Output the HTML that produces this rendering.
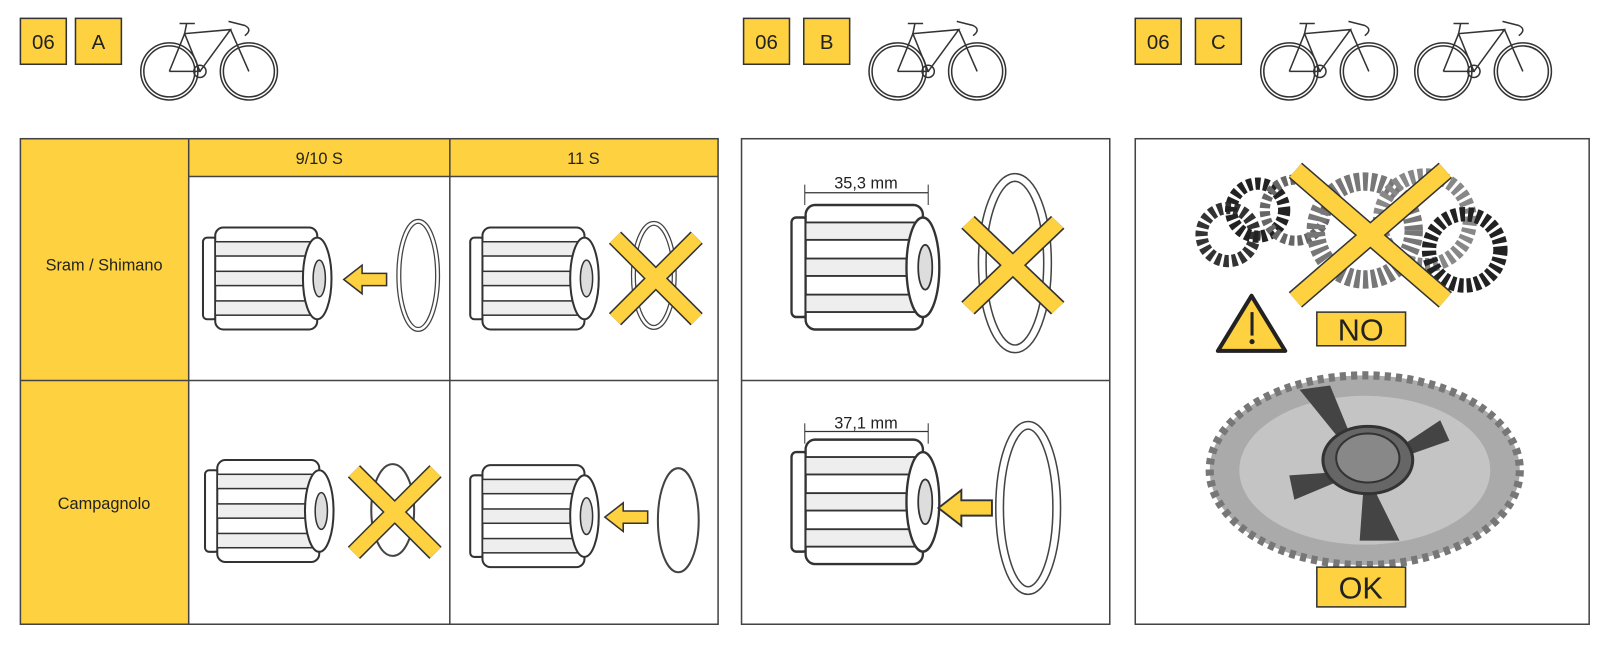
<!DOCTYPE html>
<html><head><meta charset="utf-8"><style>
html,body{margin:0;padding:0;background:#fff;}
svg{display:block;font-family:"Liberation Sans",sans-serif;}
</style></head><body>
<svg width="1600" height="662" viewBox="0 0 1600 662" xmlns="http://www.w3.org/2000/svg">
<defs>
<g id="hub">
  <rect x="0" y="10" width="14" height="80" rx="4" fill="#fff" stroke="#333" stroke-width="2"/>
  <rect x="12" y="0" width="100" height="100" rx="8" fill="#fff" stroke="#333" stroke-width="2"/>
  <rect x="12" y="14" width="100" height="14" fill="#eee" stroke="#333" stroke-width="1.5"/>
  <rect x="12" y="43" width="100" height="14" fill="#eee" stroke="#333" stroke-width="1.5"/>
  <rect x="12" y="72" width="100" height="14" fill="#eee" stroke="#333" stroke-width="1.5"/>
  <ellipse cx="112" cy="50" rx="14" ry="40" fill="#fff" stroke="#333" stroke-width="2"/>
  <ellipse cx="114" cy="50" rx="6" ry="18" fill="#ddd" stroke="#333" stroke-width="1.5"/>
</g>
<g id="bike" fill="none" stroke="#333" stroke-width="1.5">
  <circle cx="30" cy="55" r="28"/><circle cx="30" cy="55" r="25"/>
  <circle cx="108" cy="55" r="28"/><circle cx="108" cy="55" r="25"/>
  <path d="M30 55 L60 55 L45 18 L90 14 L60 55 M45 18 L30 55 M90 14 L108 55 M40 8 L55 8 M45 18 L47 8 M88 6 L104 10 Q112 14 104 20"/>
  <circle cx="60" cy="55" r="6"/>
</g>
<g id="x"><path d="M0 0 L80 80 M80 0 L0 80" stroke="#333" stroke-width="17" stroke-linecap="butt"/><path d="M0 0 L80 80 M80 0 L0 80" stroke="#fdd13f" stroke-width="14"/></g>
<g id="arr"><path d="M0 0 L18 -14 L18 -6 L42 -6 L42 6 L18 6 L18 14 Z" fill="#fdd13f" stroke="#333" stroke-width="1.5"/></g>
</defs>
<g transform="scale(1.02)">
<!-- headers -->
<g font-size="20" fill="#222" stroke-width="1.5">
<rect x="20" y="18" width="45" height="45" fill="#fdd13f" stroke="#333"/><text x="42.5" y="48" text-anchor="middle">06</text>
<rect x="74" y="18" width="45" height="45" fill="#fdd13f" stroke="#333"/><text x="96.5" y="48" text-anchor="middle">A</text>
<rect x="729" y="18" width="45" height="45" fill="#fdd13f" stroke="#333"/><text x="751.5" y="48" text-anchor="middle">06</text>
<rect x="788" y="18" width="45" height="45" fill="#fdd13f" stroke="#333"/><text x="810.5" y="48" text-anchor="middle">B</text>
<rect x="1113" y="18" width="45" height="45" fill="#fdd13f" stroke="#333"/><text x="1135.5" y="48" text-anchor="middle">06</text>
<rect x="1172" y="18" width="45" height="45" fill="#fdd13f" stroke="#333"/><text x="1194.5" y="48" text-anchor="middle">C</text>
</g>
<use href="#bike" x="136" y="15"/>
<use href="#bike" x="850" y="15"/>
<use href="#bike" x="1234" y="15"/>
<use href="#bike" x="1385" y="15"/>

<!-- panel A -->
<rect x="20" y="136" width="165" height="476" fill="#fdd13f"/>
<rect x="185" y="136" width="519" height="37" fill="#fdd13f"/>
<g stroke="#444" stroke-width="1.5" fill="none">
<rect x="20" y="136" width="684" height="476"/>
<line x1="185" y1="136" x2="185" y2="612"/>
<line x1="441" y1="136" x2="441" y2="612"/>
<line x1="185" y1="173" x2="704" y2="173"/>
<line x1="20" y1="373" x2="704" y2="373"/>
</g>
<g font-size="16" fill="#222" text-anchor="middle">
<text x="313" y="161">9/10 S</text><text x="572" y="161">11 S</text>
<text x="102" y="265">Sram / Shimano</text><text x="102" y="499">Campagnolo</text>
</g>
<use href="#hub" x="199" y="223"/>
<use href="#arr" x="337" y="274"/>
<ellipse cx="410" cy="270" rx="19" ry="53" fill="none" stroke="#444" stroke-width="5"/>
<ellipse cx="410" cy="270" rx="19" ry="53" fill="none" stroke="#fff" stroke-width="2.5"/>
<use href="#hub" x="461" y="223"/>
<ellipse cx="641" cy="270" rx="20" ry="51" fill="none" stroke="#444" stroke-width="5"/>
<ellipse cx="641" cy="270" rx="20" ry="51" fill="none" stroke="#fff" stroke-width="2.5"/>
<use href="#x" x="603" y="233"/>
<use href="#hub" x="201" y="451"/>
<ellipse cx="385" cy="500" rx="21" ry="45" fill="none" stroke="#444" stroke-width="2"/>
<use href="#x" x="347" y="462"/>
<use href="#hub" x="461" y="456"/>
<use href="#arr" x="593" y="507"/>
<ellipse cx="665" cy="510" rx="20" ry="51" fill="none" stroke="#444" stroke-width="2"/>

<!-- panel B -->
<g stroke="#444" stroke-width="1.5" fill="none">
<rect x="727" y="136" width="361" height="476"/>
<line x1="727" y1="373" x2="1088" y2="373"/>
</g>
<use href="#hub" x="776" y="201" transform="translate(776,201) scale(1.15,1.22) translate(-776,-201)"/>
<line x1="789" y1="189" x2="910" y2="189" stroke="#333" stroke-width="1.2"/>
<line x1="789" y1="181" x2="789" y2="201" stroke="#333"/><line x1="910" y1="181" x2="910" y2="201" stroke="#333"/>
<text x="849" y="185" font-size="16" text-anchor="middle" fill="#222">35,3 mm</text>
<ellipse cx="995" cy="258" rx="32" ry="84" fill="none" stroke="#444" stroke-width="9"/>
<ellipse cx="995" cy="258" rx="32" ry="84" fill="none" stroke="#fff" stroke-width="6"/>
<g transform="translate(949,218) scale(1.1,1.05)"><use href="#x"/></g>
<use href="#hub" x="776" y="431" transform="translate(776,431) scale(1.15,1.22) translate(-776,-431)"/>
<line x1="789" y1="423" x2="910" y2="423" stroke="#333" stroke-width="1.2"/>
<line x1="789" y1="415" x2="789" y2="435" stroke="#333"/><line x1="910" y1="415" x2="910" y2="435" stroke="#333"/>
<text x="849" y="420" font-size="16" text-anchor="middle" fill="#222">37,1 mm</text>
<use href="#arr" x="920" y="498" transform="translate(920,498) scale(1.25) translate(-920,-498)"/>
<ellipse cx="1008" cy="498" rx="28" ry="81" fill="none" stroke="#444" stroke-width="9"/>
<ellipse cx="1008" cy="498" rx="28" ry="81" fill="none" stroke="#fff" stroke-width="6"/>

<!-- panel C -->
<rect x="1113" y="136" width="445" height="476" fill="none" stroke="#444" stroke-width="1.5"/>
<g fill="none" stroke-dasharray="5 3">
<circle cx="1204" cy="230" r="26" stroke="#333" stroke-width="12"/>
<circle cx="1233" cy="206" r="26" stroke="#222" stroke-width="12"/>
<circle cx="1270" cy="206" r="30" stroke="#666" stroke-width="10"/>
<circle cx="1338" cy="226" r="48" stroke="#777" stroke-width="18"/>
<circle cx="1397" cy="216" r="44" stroke="#888" stroke-width="14"/>
<circle cx="1436" cy="245" r="35" stroke="#222" stroke-width="14"/>
</g>
<path d="M1270 167 L1417 294 M1417 167 L1270 294" stroke="#333" stroke-width="20"/>
<path d="M1270 167 L1417 294 M1417 167 L1270 294" stroke="#fdd13f" stroke-width="17"/>
<path d="M1227 290 L1260 344 L1194 344 Z" fill="#fdd13f" stroke="#222" stroke-width="4" stroke-linejoin="round"/>
<rect x="1226" y="306" width="3" height="23" fill="#222"/><circle cx="1227.5" cy="335" r="2.5" fill="#222"/>
<rect x="1291" y="306" width="87" height="33" fill="#fdd13f" stroke="#333" stroke-width="1.5"/>
<text x="1334" y="334" font-size="30" text-anchor="middle" fill="#222">NO</text>
<ellipse cx="1338" cy="461" rx="152" ry="93" fill="#aaa" stroke="#777" stroke-width="8" stroke-dasharray="6 5"/>
<ellipse cx="1338" cy="461" rx="123" ry="73" fill="#c4c4c4"/>
<path d="M1338 461 L1274 382 L1304 378 Z M1338 461 L1412 412 L1421 432 Z M1338 461 L1264 466 L1269 490 Z M1338 461 L1372 530 L1333 530 Z" fill="#444"/>
<ellipse cx="1341" cy="451" rx="44" ry="33" fill="#666" stroke="#333" stroke-width="3"/>
<ellipse cx="1341" cy="449" rx="31" ry="24" fill="#888" stroke="#333" stroke-width="2"/>
<rect x="1291" y="556" width="87" height="39" fill="#fdd13f" stroke="#333" stroke-width="1.5"/>
<text x="1334" y="587" font-size="30" text-anchor="middle" fill="#222">OK</text>
</g>
</svg>
</body></html>
